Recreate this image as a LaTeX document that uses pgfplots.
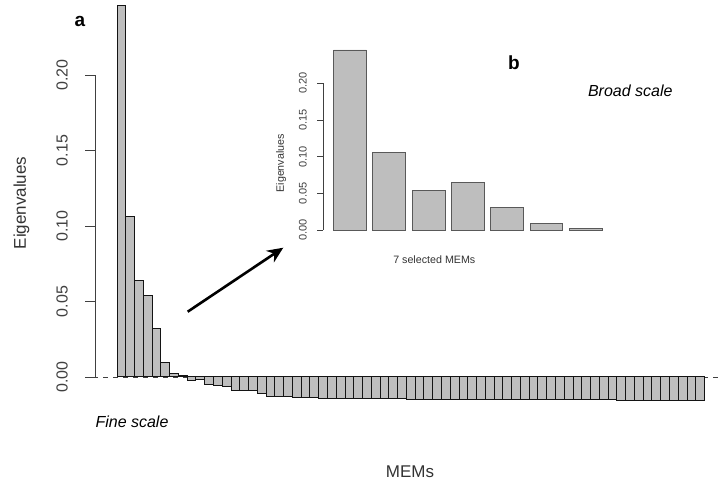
\documentclass[border=0pt]{standalone}
\usepackage{pgfplots}
\pgfplotsset{compat=1.18}
\usepackage{fontspec}
\setmainfont{Liberation Sans}
\usetikzlibrary{arrows.meta}
\definecolor{bargray}{HTML}{BEBEBE}
\definecolor{txt}{HTML}{333333}
\definecolor{tick}{HTML}{404040}

\begin{document}
\begin{tikzpicture}[x=1bp,y=1bp]
\useasboundingbox (0,0) rectangle (723,486);
% ---------------- main chart (a) ----------------
\begin{axis}[
  at={(95bp,109bp)}, anchor=south west,
  scale only axis, width=628bp, height=302bp,
  xmin=-2.5086, xmax=69.10, ymin=0, ymax=0.2,
  clip=false,
  axis x line=none, axis y line*=left,
  y axis line style={-, draw=tick, line width=0.8bp},
  ytick={0,0.05,0.1,0.15,0.2},
  tick align=outside, major tick length=10bp,
  ytick style={draw=tick, line width=0.8bp},
  yticklabel shift=17.5bp,
  yticklabel style={rotate=90, anchor=base, inner sep=0pt,
    font=\fontsize{16bp}{19bp}\selectfont, text=tick,
    /pgf/number format/.cd, fixed, fixed zerofill, precision=2, assume math mode=true},
]
\addplot[draw=tick, line width=0.8bp, dash pattern=on 5bp off 5bp, dash phase=2bp]
  coordinates {(-2.5086,0) (69.1,0)};
\addplot[ybar, bar width=1, bar shift=0pt, fill=bargray, draw=black!92, line width=1bp]
  coordinates {
  (0.5,0.2457) (1.5,0.1060) (2.5,0.0640) (3.5,0.0540) (4.5,0.0320) (5.5,0.0098)
  (6.5,0.0020) (7.5,0.0012) (8.5,-0.0020) (9.5,-0.0015) (10.5,-0.0048) (11.5,-0.0056)
  (12.5,-0.0062) (13.5,-0.0090) (14.5,-0.0090) (15.5,-0.0090) (16.5,-0.0108)
  (17.5,-0.0126) (18.5,-0.0126) (19.5,-0.0126) (20.5,-0.0134) (21.5,-0.0134) (22.5,-0.0134)
  (23.5,-0.0140) (24.5,-0.0140) (25.5,-0.0140) (26.5,-0.0140) (27.5,-0.0140)
  (28.5,-0.0140) (29.5,-0.0140) (30.5,-0.0140) (31.5,-0.0140) (32.5,-0.0140)
  (33.5,-0.0147) (34.5,-0.0147) (35.5,-0.0147) (36.5,-0.0147) (37.5,-0.0147) (38.5,-0.0147)
  (39.5,-0.0147) (40.5,-0.0147) (41.5,-0.0147) (42.5,-0.0147) (43.5,-0.0147) (44.5,-0.0147)
  (45.5,-0.0147) (46.5,-0.0147) (47.5,-0.0147) (48.5,-0.0147) (49.5,-0.0147) (50.5,-0.0147)
  (51.5,-0.0147) (52.5,-0.0147) (53.5,-0.0147) (54.5,-0.0147) (55.5,-0.0147) (56.5,-0.0147)
  (57.5,-0.0155) (58.5,-0.0155) (59.5,-0.0155) (60.5,-0.0155) (61.5,-0.0155)
  (62.5,-0.0155) (63.5,-0.0155) (64.5,-0.0155) (65.5,-0.0155) (66.5,-0.0155)
  };
\end{axis}
% ---------------- inset chart (b) ----------------
\begin{axis}[
  at={(322.8bp,256bp)}, anchor=south west,
  scale only axis, width=290bp, height=146.7bp,
  xmin=-0.128, xmax=8.728, ymin=0, ymax=0.2,
  clip=false,
  axis x line=none, axis y line*=left,
  y axis line style={-, draw=tick, line width=0.6bp},
  ytick={0,0.05,0.1,0.15,0.2},
  tick align=outside, major tick length=5.7bp,
  ytick style={draw=tick, line width=0.6bp},
  yticklabel shift=10.5bp,
  yticklabel style={rotate=90, anchor=base, inner sep=0pt,
    font=\fontsize{11bp}{13bp}\selectfont, text=tick,
    /pgf/number format/.cd, fixed, fixed zerofill, precision=2, assume math mode=true},
]
\addplot[ybar, bar width=1, bar shift=0pt, fill=bargray, draw=black!65, line width=0.7bp]
  coordinates {(0.7,0.2455) (1.9,0.1055) (3.1,0.0537) (4.3,0.0646) (5.5,0.0310) (6.7,0.0095) (7.9,0.0023)};
\end{axis}
% ---------------- annotations ----------------
\node[rotate=90, text=txt, font=\fontsize{17bp}{20bp}\selectfont] at (21.5,283) {Eigenvalues};
\node[anchor=base, inner sep=0pt, text=black, font=\fontsize{19bp}{22bp}\selectfont\bfseries] at (80,459) {a};
\node[anchor=base, inner sep=0pt, text=black, font=\fontsize{16bp}{19bp}\selectfont\itshape] at (132,58) {Fine scale};
\node[anchor=base, inner sep=0pt, text=txt, font=\fontsize{17bp}{20bp}\selectfont] at (410,8) {MEMs};
\node[rotate=90, text=txt, font=\fontsize{10.7bp}{12bp}\selectfont] at (281,322.7) {Eigenvalues};
\node[anchor=base, inner sep=0pt, text=txt, font=\fontsize{10.7bp}{12bp}\selectfont] at (434.3,222.7) {7 selected MEMs};
\node[anchor=base, inner sep=0pt, text=black, font=\fontsize{19bp}{22bp}\selectfont\bfseries] at (514,416) {b};
\node[anchor=base, inner sep=0pt, text=black, font=\fontsize{16bp}{19bp}\selectfont\itshape] at (630.3,389.3) {Broad scale};
\draw[line width=2.6bp, -{Stealth[length=16bp, width=14bp]}] (187.7,174.3) -- (283.3,238.3);
\end{tikzpicture}
\end{document}
